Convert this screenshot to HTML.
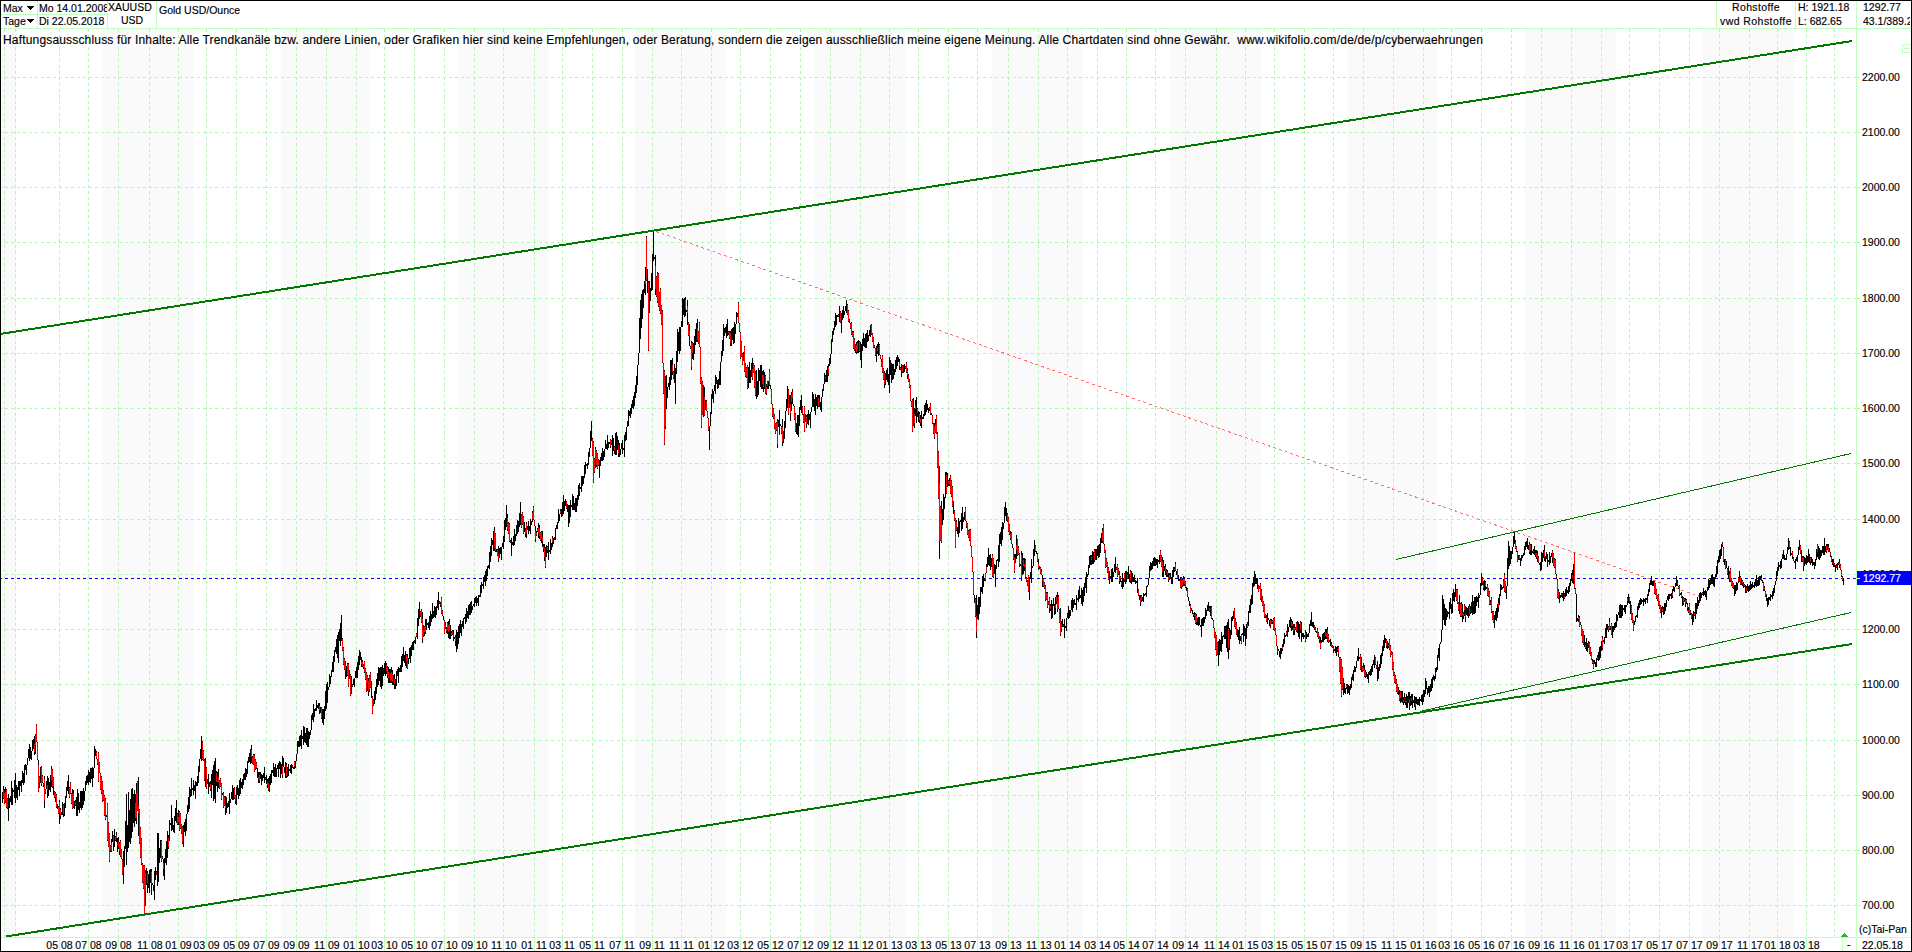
<!DOCTYPE html>
<html><head><meta charset="utf-8"><style>
html,body{margin:0;padding:0;background:#fff;}
body{width:1912px;height:952px;position:relative;overflow:hidden;font-family:"Liberation Sans",sans-serif;}
.t{position:absolute;white-space:nowrap;line-height:1;-webkit-text-stroke:0.15px currentColor;font-variant-ligatures:none;}
</style></head><body>
<svg width="1912" height="952" viewBox="0 0 1912 952" style="position:absolute;left:0;top:0" shape-rendering="crispEdges"><rect x="1" y="29" width="15" height="908" fill="#fafafa"/><rect x="103" y="29" width="90" height="908" fill="#fafafa"/><rect x="281" y="29" width="89" height="908" fill="#fafafa"/><rect x="458" y="29" width="90" height="908" fill="#fafafa"/><rect x="635" y="29" width="91" height="908" fill="#fafafa"/><rect x="814" y="29" width="91" height="908" fill="#fafafa"/><rect x="992" y="29" width="91" height="908" fill="#fafafa"/><rect x="1170" y="29" width="91" height="908" fill="#fafafa"/><rect x="1348" y="29" width="89" height="908" fill="#fafafa"/><rect x="1525" y="29" width="91" height="908" fill="#fafafa"/><rect x="1703" y="29" width="90" height="908" fill="#fafafa"/><path d="M-1 77.5H1860M-1 132.5H1860M-1 187.5H1860M-1 242.5H1860M-1 298.5H1860M-1 353.5H1860M-1 408.5H1860M-1 463.5H1860M-1 519.5H1860M-1 574.5H1860M-1 629.5H1860M-1 684.5H1860M-1 740.5H1860M-1 795.5H1860M-1 850.5H1860M-1 905.5H1860" stroke="#a6ffa6" stroke-width="1" stroke-dasharray="3 3" stroke-dashoffset="0" fill="none"/><path d="M4.5 29V937M15.5 29V937M59.5 29V937M88.5 29V937M118.5 29V937M149.5 29V937M178.5 29V937M206.5 29V937M236.5 29V937M266.5 29V937M296.5 29V937M326.5 29V937M356.5 29V937M384.5 29V937M414.5 29V937M444.5 29V937M474.5 29V937M503.5 29V937M534.5 29V937M562.5 29V937M592.5 29V937M622.5 29V937M652.5 29V937M681.5 29V937M711.5 29V937M740.5 29V937M770.5 29V937M800.5 29V937M830.5 29V937M860.5 29V937M889.5 29V937M918.5 29V937M948.5 29V937M977.5 29V937M1008.5 29V937M1038.5 29V937M1067.5 29V937M1097.5 29V937M1126.5 29V937M1155.5 29V937M1185.5 29V937M1216.5 29V937M1245.5 29V937M1274.5 29V937M1304.5 29V937M1333.5 29V937M1363.5 29V937M1393.5 29V937M1423.5 29V937M1451.5 29V937M1481.5 29V937M1511.5 29V937M1541.5 29V937M1571.5 29V937M1601.5 29V937M1629.5 29V937M1659.5 29V937M1689.5 29V937M1719.5 29V937M1749.5 29V937M1777.5 29V937M1806.5 29V937M1834.5 29V937" stroke="#a6ffa6" stroke-width="1" stroke-dasharray="3 3" fill="none"/><path d="M0 28.5H1911M0 937.5H1911M1856.5 0V951M0 14.5H107M37.5 0V28M107.5 0V28M156.5 0V28M1716.5 0V28M1795.5 0V28M59.5 938V951M88.5 938V951M118.5 938V951M149.5 938V951M178.5 938V951M206.5 938V951M236.5 938V951M266.5 938V951M296.5 938V951M326.5 938V951M356.5 938V951M384.5 938V951M414.5 938V951M444.5 938V951M474.5 938V951M503.5 938V951M534.5 938V951M562.5 938V951M592.5 938V951M622.5 938V951M652.5 938V951M681.5 938V951M711.5 938V951M740.5 938V951M770.5 938V951M800.5 938V951M830.5 938V951M860.5 938V951M889.5 938V951M918.5 938V951M948.5 938V951M977.5 938V951M1008.5 938V951M1038.5 938V951M1067.5 938V951M1097.5 938V951M1126.5 938V951M1155.5 938V951M1185.5 938V951M1216.5 938V951M1245.5 938V951M1274.5 938V951M1304.5 938V951M1333.5 938V951M1363.5 938V951M1393.5 938V951M1423.5 938V951M1451.5 938V951M1481.5 938V951M1511.5 938V951M1541.5 938V951M1571.5 938V951M1601.5 938V951M1629.5 938V951M1659.5 938V951M1689.5 938V951M1719.5 938V951M1749.5 938V951M1777.5 938V951M1806.5 938V951M1842.5 938V951" stroke="#c0ffc0" stroke-width="1" fill="none"/><path d="M1857 77.5H1860M1857 132.5H1860M1857 187.5H1860M1857 242.5H1860M1857 298.5H1860M1857 353.5H1860M1857 408.5H1860M1857 463.5H1860M1857 519.5H1860M1857 574.5H1860M1857 629.5H1860M1857 684.5H1860M1857 740.5H1860M1857 795.5H1860M1857 850.5H1860M1857 905.5H1860" stroke="#a6ffa6" stroke-width="1" fill="none"/><path d="M-1 578.5H1860" stroke="#0000ff" stroke-width="1" stroke-dasharray="3 3" fill="none"/><path d="M656 231.5L1700 596.5" stroke="#ff7070" stroke-width="1" stroke-dasharray="3 3" fill="none"/><path d="M2.5 792V803M3.5 786V799M4.5 789V804M5.5 787V803M6.5 789V808M7.5 798V809M8.5 794V821M9.5 798V808M10.5 796V802M11.5 781V805M12.5 788V805M13.5 790V792M14.5 780V798M15.5 773V803M16.5 785V798M17.5 787V800M18.5 781V790M19.5 781V796M20.5 781V786M21.5 780V792M22.5 771V783M23.5 773V785M24.5 765V783M25.5 764V770M26.5 765V775M27.5 758V765M28.5 749V758M29.5 744V761M30.5 747V759M31.5 751V760M32.5 740V751M33.5 739V749M34.5 736V755M35.5 734V754M36.5 724V742M37.5 742V760M38.5 760V792M39.5 776V788M40.5 767V783M41.5 766V786M42.5 775V783M43.5 783V787M44.5 776V808M45.5 789V794M46.5 781V789M47.5 776V798M48.5 778V796M49.5 782V790M50.5 775V792M51.5 766V787M52.5 769V788M53.5 777V795M54.5 791V798M55.5 792V802M56.5 794V808M57.5 804V809M58.5 806V814M59.5 800V824M60.5 808V819M61.5 812V815M62.5 802V815M63.5 804V817M64.5 803V816M65.5 796V808M66.5 787V798M67.5 781V791M68.5 775V794M69.5 787V798M70.5 782V794M71.5 793V804M72.5 789V809M73.5 790V808M74.5 801V809M75.5 800V806M76.5 797V816M77.5 789V816M78.5 793V810M79.5 802V813M80.5 791V808M81.5 791V810M82.5 791V808M83.5 788V805M84.5 791V801M85.5 781V791M86.5 776V785M87.5 775V783M88.5 770V785M89.5 772V782M90.5 768V783M91.5 768V779M92.5 767V787M93.5 768V778M94.5 746V768M95.5 749V756M96.5 751V759M97.5 759V765M98.5 752V782M99.5 762V773M100.5 773V790M101.5 776V794M102.5 781V802M103.5 790V801M104.5 795V816M105.5 798V820M106.5 815V817M107.5 803V841M108.5 822V847M109.5 833V862M110.5 845V852M111.5 839V852M112.5 831V842M113.5 835V851M114.5 829V847M115.5 836V841M116.5 832V842M117.5 838V852M118.5 837V849M119.5 842V855M120.5 840V857M121.5 849V859M122.5 859V875M123.5 851V884M124.5 846V867M125.5 821V849M126.5 794V865M127.5 825V852M128.5 792V848M129.5 810V842M130.5 799V844M131.5 789V838M132.5 788V832M133.5 794V823M134.5 790V827M135.5 794V821M136.5 783V824M137.5 781V811M138.5 777V836M139.5 809V844M140.5 827V858M141.5 838V865M142.5 863V883M143.5 865V889M144.5 865V915M145.5 870V906M146.5 868V885M147.5 871V893M148.5 874V888M149.5 870V893M150.5 869V883M151.5 869V895M152.5 883V885M153.5 885V891M154.5 871V900M155.5 867V880M156.5 871V875M157.5 833V886M158.5 833V882M159.5 848V863M160.5 840V858M161.5 840V862M162.5 856V859M163.5 859V876M164.5 858V880M165.5 849V863M166.5 841V865M167.5 831V858M168.5 835V849M169.5 820V841M170.5 823V825M171.5 805V831M172.5 818V830M173.5 825V832M174.5 816V833M175.5 808V821M176.5 800V823M177.5 813V825M178.5 810V825M179.5 811V831M180.5 813V829M181.5 824V834M182.5 826V844M183.5 825V847M184.5 822V832M185.5 819V836M186.5 814V831M187.5 805V814M188.5 797V812M189.5 787V809M190.5 789V797M191.5 778V796M192.5 788V790M193.5 780V795M194.5 785V791M195.5 781V799M196.5 782V786M197.5 776V786M198.5 766V783M199.5 759V772M200.5 749V759M201.5 736V761M202.5 741V760M203.5 750V761M204.5 759V781M205.5 758V787M206.5 767V789M207.5 779V784M208.5 774V794M209.5 782V787M210.5 781V791M211.5 774V798M212.5 770V785M213.5 765V801M214.5 761V799M215.5 758V803M216.5 771V786M217.5 772V792M218.5 769V788M219.5 780V789M220.5 778V787M221.5 783V800M222.5 793V795M223.5 792V808M224.5 796V806M225.5 796V815M226.5 797V813M227.5 803V808M228.5 801V807M229.5 793V814M230.5 799V803M231.5 792V799M232.5 785V800M233.5 788V800M234.5 787V799M235.5 795V804M236.5 787V805M237.5 785V795M238.5 788V799M239.5 780V796M240.5 778V794M241.5 782V788M242.5 779V789M243.5 774V785M244.5 773V780M245.5 768V780M246.5 769V777M247.5 761V774M248.5 757V763M249.5 753V762M250.5 749V764M251.5 745V763M252.5 756V764M253.5 754V765M254.5 754V772M255.5 759V770M256.5 762V769M257.5 768V778M258.5 772V783M259.5 772V783M260.5 772V779M261.5 774V785M262.5 775V781M263.5 773V778M264.5 767V783M265.5 777V780M266.5 775V784M267.5 779V788M268.5 778V791M269.5 776V792M270.5 774V785M271.5 770V783M272.5 770V773M273.5 763V776M274.5 767V777M275.5 764V777M276.5 768V777M277.5 765V769M278.5 763V777M279.5 761V769M280.5 762V778M281.5 764V774M282.5 756V778M283.5 758V767M284.5 767V773M285.5 762V778M286.5 763V778M287.5 767V777M288.5 764V776M289.5 769V771M290.5 765V773M291.5 764V774M292.5 765V768M293.5 767V769M294.5 761V769M295.5 761V768M296.5 754V761M297.5 741V754M298.5 741V747M299.5 736V747M300.5 735V746M301.5 730V749M302.5 736V739M303.5 726V745M304.5 727V742M305.5 733V743M306.5 728V745M307.5 728V747M308.5 731V747M309.5 732V739M310.5 730V735M311.5 715V730M312.5 713V720M313.5 704V722M314.5 709V717M315.5 708V711M316.5 700V711M317.5 705V708M318.5 703V709M319.5 703V714M320.5 707V713M321.5 707V719M322.5 709V723M323.5 709V725M324.5 706V719M325.5 691V711M326.5 684V709M327.5 682V703M328.5 687V690M329.5 674V687M330.5 676V684M331.5 670V677M332.5 662V672M333.5 656V672M334.5 650V662M335.5 647V652M336.5 639V654M337.5 635V658M338.5 632V663M339.5 629V641M340.5 623V646M341.5 615V641M342.5 638V651M343.5 647V665M344.5 658V670M345.5 661V679M346.5 666V677M347.5 663V676M348.5 663V687M349.5 670V679M350.5 674V696M351.5 676V694M352.5 684V687M353.5 679V685M354.5 678V687M355.5 671V678M356.5 667V678M357.5 662V678M358.5 656V670M359.5 650V665M360.5 652V660M361.5 657V667M362.5 660V667M363.5 664V669M364.5 661V673M365.5 668V680M366.5 672V692M367.5 675V691M368.5 678V696M369.5 675V692M370.5 672V688M371.5 681V698M372.5 696V714M373.5 699V706M374.5 691V704M375.5 687V700M376.5 679V694M377.5 673V687M378.5 667V685M379.5 668V681M380.5 667V687M381.5 667V689M382.5 665V686M383.5 668V676M384.5 663V674M385.5 661V676M386.5 663V674M387.5 666V678M388.5 667V683M389.5 669V683M390.5 669V683M391.5 667V683M392.5 670V685M393.5 675V685M394.5 674V689M395.5 679V689M396.5 671V686M397.5 669V676M398.5 667V683M399.5 668V672M400.5 665V672M401.5 656V672M402.5 654V667M403.5 647V661M404.5 655V663M405.5 651V666M406.5 654V668M407.5 654V669M408.5 658V664M409.5 648V659M410.5 647V663M411.5 645V656M412.5 642V650M413.5 641V650M414.5 640V643M415.5 637V644M416.5 633V637M417.5 618V639M418.5 609V626M419.5 602V619M420.5 611V617M421.5 609V623M422.5 612V643M423.5 625V637M424.5 626V636M425.5 619V634M426.5 619V630M427.5 623V625M428.5 622V628M429.5 616V630M430.5 611V626M431.5 614V622M432.5 603V619M433.5 611V618M434.5 606V617M435.5 607V618M436.5 606V615M437.5 600V608M438.5 592V610M439.5 601V604M440.5 602V607M441.5 597V614M442.5 610V616M443.5 616V620M444.5 620V634M445.5 622V629M446.5 627V633M447.5 622V634M448.5 621V638M449.5 619V639M450.5 625V639M451.5 631V636M452.5 630V635M453.5 630V641M454.5 637V639M455.5 635V646M456.5 630V652M457.5 632V649M458.5 626V644M459.5 624V638M460.5 620V633M461.5 624V636M462.5 621V627M463.5 618V629M464.5 617V619M465.5 614V624M466.5 608V622M467.5 611V618M468.5 605V619M469.5 604V615M470.5 602V615M471.5 601V613M472.5 606V610M473.5 604V606M474.5 598V607M475.5 597V603M476.5 596V606M477.5 598V603M478.5 595V606M479.5 595V597M480.5 585V597M481.5 582V593M482.5 584V586M483.5 577V589M484.5 575V582M485.5 571V586M486.5 569V581M487.5 566V576M488.5 565V568M489.5 552V569M490.5 546V562M491.5 538V556M492.5 540V545M493.5 531V551M494.5 527V551M495.5 533V552M496.5 549V552M497.5 549V556M498.5 546V562M499.5 548V558M500.5 547V554M501.5 547V560M502.5 543V547M503.5 536V549M504.5 520V542M505.5 518V530M506.5 505V527M507.5 514V531M508.5 522V534M509.5 523V542M510.5 540V543M511.5 538V556M512.5 542V545M513.5 536V546M514.5 529V545M515.5 534V541M516.5 525V536M517.5 520V534M518.5 521V532M519.5 513V527M520.5 502V525M521.5 514V528M522.5 512V525M523.5 516V534M524.5 522V532M525.5 528V537M526.5 522V538M527.5 526V530M528.5 521V534M529.5 526V531M530.5 519V534M531.5 521V525M532.5 511V522M533.5 506V520M534.5 520V526M535.5 526V542M536.5 531V536M537.5 528V532M538.5 523V538M539.5 525V539M540.5 532V541M541.5 531V543M542.5 531V547M543.5 544V552M544.5 544V561M545.5 547V568M546.5 545V557M547.5 546V553M548.5 542V560M549.5 550V552M550.5 539V554M551.5 543V550M552.5 536V547M553.5 538V544M554.5 537V540M555.5 528V540M556.5 525V529M557.5 522V529M558.5 509V523M559.5 514V521M560.5 509V514M561.5 509V517M562.5 502V516M563.5 495V514M564.5 501V511M565.5 499V506M566.5 501V509M567.5 504V512M568.5 505V527M569.5 505V523M570.5 500V517M571.5 505V507M572.5 494V510M573.5 496V510M574.5 503V510M575.5 498V512M576.5 498V512M577.5 495V506M578.5 485V500M579.5 483V496M580.5 487V489M581.5 476V492M582.5 476V486M583.5 476V484M584.5 465V478M585.5 462V474M586.5 464V466M587.5 463V469M588.5 452V465M589.5 448V457M590.5 431V448M591.5 421V441M592.5 438V456M593.5 441V483M594.5 458V473M595.5 447V468M596.5 450V467M597.5 453V469M598.5 459V466M599.5 460V478M600.5 457V466M601.5 453V461M602.5 448V461M603.5 451V460M604.5 449V457M605.5 440V449M606.5 444V449M607.5 435V450M608.5 442V448M609.5 442V444M610.5 439V448M611.5 440V445M612.5 435V456M613.5 438V451M614.5 446V454M615.5 433V455M616.5 432V455M617.5 436V450M618.5 440V457M619.5 443V457M620.5 449V455M621.5 443V449M622.5 440V454M623.5 448V450M624.5 435V457M625.5 432V441M626.5 427V440M627.5 421V427M628.5 410V426M629.5 411V416M630.5 408V418M631.5 404V414M632.5 400V408M633.5 396V409M634.5 392V406M635.5 385V398M636.5 376V393M637.5 365V385M638.5 353V365M639.5 318V353M640.5 300V339M641.5 294V328M642.5 290V319M643.5 289V308M644.5 281V293M645.5 267V295M646.5 236V281M647.5 269V293M648.5 281V351M649.5 281V313M650.5 288V301M651.5 273V291M652.5 254V290M653.5 232V261M654.5 257V259M655.5 255V295M656.5 276V297M657.5 272V303M658.5 273V307M659.5 292V311M660.5 288V314M661.5 305V325M662.5 310V363M663.5 363V394M664.5 370V445M665.5 376V429M666.5 375V409M667.5 387V398M668.5 383V387M669.5 377V390M670.5 360V385M671.5 360V380M672.5 358V375M673.5 371V379M674.5 364V383M675.5 368V404M676.5 351V374M677.5 329V362M678.5 332V351M679.5 327V354M680.5 327V351M681.5 321V327M682.5 298V327M683.5 299V315M684.5 298V317M685.5 297V316M686.5 310V312M687.5 300V325M688.5 322V336M689.5 324V346M690.5 346V349M691.5 341V370M692.5 342V359M693.5 343V360M694.5 336V354M695.5 329V345M696.5 323V342M697.5 319V342M698.5 331V344M699.5 322V347M700.5 347V384M701.5 377V428M702.5 381V415M703.5 385V417M704.5 387V416M705.5 400V410M706.5 400V411M707.5 411V418M708.5 418V431M709.5 426V450M710.5 412V426M711.5 394V414M712.5 389V399M713.5 391V403M714.5 385V391M715.5 375V394M716.5 377V384M717.5 380V389M718.5 379V388M719.5 371V385M720.5 362V385M721.5 351V362M722.5 340V356M723.5 324V351M724.5 328V336M725.5 327V333M726.5 324V338M727.5 319V336M728.5 331V335M729.5 331V339M730.5 331V346M731.5 329V346M732.5 328V340M733.5 327V344M734.5 322V343M735.5 324V334M736.5 312V324M737.5 313V317M738.5 302V323M739.5 323V332M740.5 332V359M741.5 341V357M742.5 353V365M743.5 352V361M744.5 346V372M745.5 363V377M746.5 367V378M747.5 365V389M748.5 367V388M749.5 362V383M750.5 370V383M751.5 363V377M752.5 358V380M753.5 363V373M754.5 365V388M755.5 371V396M756.5 370V399M757.5 381V397M758.5 368V395M759.5 370V381M760.5 365V387M761.5 365V389M762.5 371V389M763.5 370V392M764.5 372V389M765.5 375V394M766.5 384V395M767.5 381V389M768.5 381V389M769.5 369V386M770.5 385V389M771.5 389V404M772.5 404V417M773.5 408V419M774.5 414V429M775.5 423V434M776.5 422V431M777.5 419V448M778.5 420V427M779.5 410V435M780.5 424V426M781.5 426V434M782.5 419V446M783.5 431V443M784.5 421V439M785.5 411V428M786.5 399V411M787.5 386V408M788.5 389V415M789.5 395V408M790.5 395V421M791.5 392V411M792.5 389V404M793.5 404V406M794.5 406V420M795.5 413V432M796.5 423V434M797.5 415V435M798.5 415V437M799.5 407V426M800.5 400V410M801.5 395V413M802.5 406V415M803.5 414V423M804.5 406V432M805.5 414V422M806.5 415V428M807.5 414V424M808.5 410V425M809.5 414V420M810.5 412V428M811.5 407V412M812.5 392V407M813.5 394V407M814.5 399V411M815.5 394V415M816.5 397V406M817.5 395V409M818.5 395V407M819.5 395V407M820.5 402V410M821.5 397V412M822.5 389V397M823.5 384V391M824.5 373V384M825.5 375V382M826.5 370V382M827.5 366V382M828.5 364V376M829.5 358V366M830.5 354V364M831.5 339V354M832.5 331V342M833.5 328V335M834.5 321V330M835.5 313V327M836.5 315V325M837.5 315V317M838.5 314V317M839.5 306V322M840.5 311V323M841.5 313V333M842.5 310V320M843.5 306V318M844.5 311V315M845.5 306V311M846.5 300V313M847.5 304V315M848.5 310V322M849.5 319V323M850.5 323V329M851.5 322V335M852.5 331V337M853.5 331V349M854.5 338V351M855.5 344V353M856.5 342V354M857.5 341V353M858.5 340V353M859.5 341V352M860.5 342V360M861.5 344V368M862.5 339V351M863.5 333V346M864.5 338V347M865.5 334V348M866.5 333V348M867.5 330V342M868.5 335V341M869.5 330V336M870.5 325V337M871.5 324V335M872.5 333V342M873.5 337V348M874.5 345V348M875.5 348V356M876.5 346V362M877.5 344V354M878.5 342V356M879.5 344V355M880.5 355V359M881.5 359V367M882.5 355V373M883.5 368V380M884.5 371V388M885.5 373V385M886.5 370V380M887.5 368V382M888.5 374V385M889.5 357V393M890.5 360V375M891.5 363V383M892.5 364V380M893.5 364V379M894.5 369V375M895.5 360V372M896.5 357V369M897.5 355V366M898.5 357V362M899.5 359V370M900.5 367V370M901.5 364V377M902.5 365V373M903.5 365V373M904.5 364V372M905.5 366V369M906.5 362V373M907.5 368V379M908.5 374V382M909.5 379V388M910.5 385V401M911.5 401V407M912.5 399V432M913.5 398V426M914.5 408V428M915.5 400V416M916.5 397V423M917.5 408V417M918.5 411V422M919.5 412V423M920.5 415V426M921.5 411V428M922.5 417V419M923.5 414V419M924.5 405V416M925.5 403V415M926.5 400V412M927.5 404V410M928.5 408V413M929.5 407V411M930.5 403V415M931.5 413V415M932.5 415V424M933.5 423V434M934.5 423V439M935.5 419V433M936.5 415V434M937.5 432V468M938.5 451V499M939.5 466V559M940.5 506V541M941.5 501V543M942.5 509V525M943.5 494V520M944.5 497V509M945.5 472V498M946.5 472V494M947.5 473V487M948.5 480V486M949.5 478V486M950.5 475V494M951.5 480V497M952.5 486V507M953.5 501V514M954.5 510V521M955.5 518V548M956.5 520V531M957.5 527V534M958.5 518V537M959.5 521V533M960.5 520V522M961.5 513V531M962.5 507V529M963.5 517V522M964.5 512V520M965.5 507V521M966.5 521V528M967.5 523V535M968.5 530V538M969.5 529V541M970.5 529V546M971.5 546V557M972.5 557V572M973.5 572V595M974.5 595V603M975.5 598V617M976.5 595V638M977.5 605V619M978.5 597V620M979.5 597V614M980.5 587V607M981.5 587V592M982.5 576V594M983.5 574V587M984.5 578V581M985.5 573V581M986.5 564V573M987.5 557V567M988.5 548V565M989.5 555V566M990.5 554V570M991.5 558V567M992.5 554V577M993.5 558V578M994.5 564V574M995.5 565V587M996.5 560V569M997.5 559V561M998.5 545V567M999.5 534V562M1000.5 532V544M1001.5 527V546M1002.5 522V540M1003.5 523V529M1004.5 507V523M1005.5 502V516M1006.5 508V521M1007.5 513V522M1008.5 517V532M1009.5 524V535M1010.5 531V540M1011.5 532V544M1012.5 544V548M1013.5 548V560M1014.5 554V573M1015.5 554V563M1016.5 535V559M1017.5 539V556M1018.5 546V555M1019.5 553V567M1020.5 564V566M1021.5 551V581M1022.5 553V575M1023.5 558V574M1024.5 558V571M1025.5 559V578M1026.5 577V582M1027.5 580V586M1028.5 575V592M1029.5 577V600M1030.5 572V579M1031.5 559V583M1032.5 566V568M1033.5 549V566M1034.5 540V556M1035.5 545V552M1036.5 551V554M1037.5 553V562M1038.5 559V570M1039.5 566V569M1040.5 567V574M1041.5 569V575M1042.5 575V587M1043.5 578V587M1044.5 582V589M1045.5 585V601M1046.5 592V600M1047.5 592V608M1048.5 601V605M1049.5 597V613M1050.5 604V611M1051.5 600V619M1052.5 604V618M1053.5 598V606M1054.5 604V615M1055.5 597V614M1056.5 595V604M1057.5 592V612M1058.5 595V609M1059.5 609V623M1060.5 608V636M1061.5 621V632M1062.5 619V627M1063.5 624V627M1064.5 619V638M1065.5 626V628M1066.5 618V631M1067.5 613V618M1068.5 606V619M1069.5 610V618M1070.5 610V616M1071.5 600V610M1072.5 598V612M1073.5 600V608M1074.5 599V605M1075.5 603V605M1076.5 595V610M1077.5 598V600M1078.5 590V602M1079.5 586V599M1080.5 595V598M1081.5 588V604M1082.5 590V606M1083.5 587V602M1084.5 583V596M1085.5 577V588M1086.5 572V593M1087.5 574V577M1088.5 565V575M1089.5 556V568M1090.5 555V565M1091.5 555V565M1092.5 551V564M1093.5 552V564M1094.5 549V562M1095.5 549V560M1096.5 549V560M1097.5 546V556M1098.5 545V558M1099.5 544V557M1100.5 538V553M1101.5 533V543M1102.5 528V543M1103.5 524V544M1104.5 544V553M1105.5 550V568M1106.5 558V567M1107.5 562V573M1108.5 567V580M1109.5 571V584M1110.5 576V578M1111.5 569V582M1112.5 568V582M1113.5 572V577M1114.5 564V572M1115.5 557V573M1116.5 567V570M1117.5 564V577M1118.5 568V575M1119.5 571V584M1120.5 576V582M1121.5 581V587M1122.5 573V589M1123.5 578V587M1124.5 573V582M1125.5 571V584M1126.5 571V582M1127.5 572V579M1128.5 566V579M1129.5 574V582M1130.5 570V583M1131.5 571V584M1132.5 573V582M1133.5 577V582M1134.5 575V582M1135.5 580V584M1136.5 581V583M1137.5 578V593M1138.5 589V596M1139.5 595V600M1140.5 595V606M1141.5 595V602M1142.5 597V601M1143.5 593V602M1144.5 594V596M1145.5 593V595M1146.5 586V597M1147.5 585V587M1148.5 578V585M1149.5 566V578M1150.5 562V571M1151.5 563V570M1152.5 561V569M1153.5 558V566M1154.5 557V566M1155.5 558V566M1156.5 559V565M1157.5 559V568M1158.5 560V562M1159.5 555V564M1160.5 550V562M1161.5 555V567M1162.5 557V577M1163.5 560V577M1164.5 566V571M1165.5 564V575M1166.5 569V577M1167.5 570V577M1168.5 573V582M1169.5 573V580M1170.5 573V579M1171.5 577V584M1172.5 570V584M1173.5 567V577M1174.5 567V572M1175.5 562V571M1176.5 571V575M1177.5 569V579M1178.5 575V581M1179.5 579V581M1180.5 577V588M1181.5 577V589M1182.5 579V587M1183.5 576V586M1184.5 577V586M1185.5 581V588M1186.5 587V591M1187.5 588V597M1188.5 597V601M1189.5 601V606M1190.5 604V613M1191.5 608V611M1192.5 610V614M1193.5 613V617M1194.5 612V620M1195.5 613V624M1196.5 614V625M1197.5 618V625M1198.5 617V626M1199.5 617V625M1200.5 625V627M1201.5 619V637M1202.5 618V626M1203.5 617V626M1204.5 617V623M1205.5 608V619M1206.5 610V616M1207.5 605V611M1208.5 602V611M1209.5 606V612M1210.5 606V616M1211.5 606V619M1212.5 618V620M1213.5 620V628M1214.5 628V638M1215.5 632V650M1216.5 635V656M1217.5 642V655M1218.5 641V666M1219.5 639V655M1220.5 640V651M1221.5 632V652M1222.5 636V644M1223.5 635V637M1224.5 626V639M1225.5 626V639M1226.5 625V648M1227.5 622V652M1228.5 619V659M1229.5 628V650M1230.5 630V639M1231.5 617V635M1232.5 616V621M1233.5 611V619M1234.5 608V627M1235.5 618V629M1236.5 622V635M1237.5 629V637M1238.5 630V640M1239.5 627V644M1240.5 636V641M1241.5 634V644M1242.5 633V635M1243.5 624V642M1244.5 626V636M1245.5 628V646M1246.5 624V639M1247.5 622V628M1248.5 611V626M1249.5 605V613M1250.5 599V613M1251.5 595V605M1252.5 583V604M1253.5 577V587M1254.5 571V586M1255.5 574V584M1256.5 578V584M1257.5 578V589M1258.5 585V592M1259.5 586V589M1260.5 583V600M1261.5 589V602M1262.5 596V606M1263.5 601V612M1264.5 604V618M1265.5 614V618M1266.5 615V622M1267.5 613V624M1268.5 618V620M1269.5 620V626M1270.5 619V628M1271.5 619V624M1272.5 620V624M1273.5 618V630M1274.5 617V631M1275.5 628V635M1276.5 635V646M1277.5 646V655M1278.5 649V651M1279.5 651V657M1280.5 648V659M1281.5 648V654M1282.5 644V651M1283.5 639V647M1284.5 633V644M1285.5 635V637M1286.5 631V636M1287.5 624V637M1288.5 627V632M1289.5 620V627M1290.5 617V628M1291.5 619V631M1292.5 621V630M1293.5 624V635M1294.5 624V635M1295.5 627V630M1296.5 622V632M1297.5 621V633M1298.5 622V637M1299.5 624V639M1300.5 621V633M1301.5 622V642M1302.5 633V637M1303.5 633V639M1304.5 635V637M1305.5 630V642M1306.5 632V639M1307.5 634V637M1308.5 633V637M1309.5 624V633M1310.5 620V626M1311.5 612V626M1312.5 622V627M1313.5 622V628M1314.5 625V630M1315.5 627V632M1316.5 631V633M1317.5 628V637M1318.5 632V639M1319.5 636V643M1320.5 637V649M1321.5 640V643M1322.5 634V642M1323.5 633V642M1324.5 632V640M1325.5 629V639M1326.5 629V639M1327.5 627V642M1328.5 634V643M1329.5 640V642M1330.5 639V646M1331.5 642V647M1332.5 645V648M1333.5 646V653M1334.5 649V651M1335.5 646V653M1336.5 647V656M1337.5 646V652M1338.5 646V657M1339.5 657V672M1340.5 657V684M1341.5 659V697M1342.5 667V690M1343.5 678V695M1344.5 683V693M1345.5 688V694M1346.5 684V689M1347.5 684V694M1348.5 685V693M1349.5 686V695M1350.5 684V690M1351.5 677V688M1352.5 674V680M1353.5 670V681M1354.5 666V672M1355.5 667V672M1356.5 661V668M1357.5 656V661M1358.5 648V661M1359.5 657V659M1360.5 654V670M1361.5 657V672M1362.5 666V672M1363.5 663V671M1364.5 665V677M1365.5 670V678M1366.5 672V677M1367.5 674V679M1368.5 672V683M1369.5 671V675M1370.5 669V676M1371.5 666V675M1372.5 664V672M1373.5 660V665M1374.5 655V668M1375.5 657V665M1376.5 665V669M1377.5 661V681M1378.5 667V679M1379.5 664V671M1380.5 655V668M1381.5 653V664M1382.5 646V656M1383.5 640V651M1384.5 635V648M1385.5 638V643M1386.5 639V648M1387.5 641V649M1388.5 643V648M1389.5 639V650M1390.5 645V657M1391.5 651V655M1392.5 652V670M1393.5 662V676M1394.5 672V683M1395.5 675V684M1396.5 679V692M1397.5 684V694M1398.5 687V695M1399.5 690V701M1400.5 691V703M1401.5 691V702M1402.5 691V703M1403.5 697V705M1404.5 693V703M1405.5 697V705M1406.5 694V708M1407.5 696V708M1408.5 692V703M1409.5 692V710M1410.5 696V706M1411.5 694V705M1412.5 694V708M1413.5 700V703M1414.5 696V707M1415.5 697V710M1416.5 697V704M1417.5 699V705M1418.5 699V705M1419.5 697V706M1420.5 699V701M1421.5 695V702M1422.5 694V705M1423.5 690V702M1424.5 690V697M1425.5 678V694M1426.5 681V689M1427.5 688V695M1428.5 686V693M1429.5 686V697M1430.5 684V692M1431.5 679V691M1432.5 677V688M1433.5 675V680M1434.5 676V681M1435.5 668V679M1436.5 667V672M1437.5 655V670M1438.5 648V658M1439.5 644V661M1440.5 642V644M1441.5 630V642M1442.5 595V630M1443.5 599V620M1444.5 604V625M1445.5 608V626M1446.5 609V620M1447.5 611V617M1448.5 612V614M1449.5 602V619M1450.5 598V609M1451.5 604V614M1452.5 593V613M1453.5 589V601M1454.5 592V602M1455.5 584V597M1456.5 589V601M1457.5 589V604M1458.5 602V611M1459.5 595V614M1460.5 603V617M1461.5 602V617M1462.5 604V622M1463.5 612V619M1464.5 604V616M1465.5 606V622M1466.5 607V615M1467.5 608V616M1468.5 606V618M1469.5 604V616M1470.5 606V614M1471.5 602V613M1472.5 595V615M1473.5 601V614M1474.5 597V614M1475.5 597V613M1476.5 596V606M1477.5 597V602M1478.5 593V608M1479.5 595V598M1480.5 583V595M1481.5 573V586M1482.5 577V585M1483.5 581V590M1484.5 580V591M1485.5 581V590M1486.5 587V589M1487.5 584V596M1488.5 588V597M1489.5 591V605M1490.5 600V605M1491.5 597V613M1492.5 611V620M1493.5 611V623M1494.5 615V628M1495.5 611V620M1496.5 608V621M1497.5 604V618M1498.5 598V612M1499.5 594V605M1500.5 584V596M1501.5 585V590M1502.5 587V589M1503.5 579V588M1504.5 573V592M1505.5 581V593M1506.5 586V599M1507.5 558V586M1508.5 541V569M1509.5 546V566M1510.5 551V564M1511.5 551V559M1512.5 547V554M1513.5 536V547M1514.5 532V544M1515.5 540V549M1516.5 546V552M1517.5 551V562M1518.5 555V560M1519.5 555V560M1520.5 558V566M1521.5 555V561M1522.5 555V558M1523.5 553V556M1524.5 546V555M1525.5 542V550M1526.5 541V547M1527.5 538V549M1528.5 545V550M1529.5 542V554M1530.5 544V555M1531.5 544V555M1532.5 551V553M1533.5 549V554M1534.5 546V555M1535.5 550V557M1536.5 550V559M1537.5 551V562M1538.5 556V563M1539.5 563V565M1540.5 562V571M1541.5 552V570M1542.5 553V562M1543.5 550V558M1544.5 545V561M1545.5 556V562M1546.5 552V559M1547.5 554V567M1548.5 560V562M1549.5 552V565M1550.5 556V563M1551.5 553V557M1552.5 550V563M1553.5 553V566M1554.5 558V568M1555.5 559V574M1556.5 574V579M1557.5 579V598M1558.5 589V599M1559.5 592V603M1560.5 595V598M1561.5 593V597M1562.5 593V598M1563.5 591V601M1564.5 593V599M1565.5 589V597M1566.5 587V596M1567.5 590V593M1568.5 586V594M1569.5 583V592M1570.5 579V586M1571.5 573V581M1572.5 570V583M1573.5 564V584M1574.5 553V589M1575.5 588V594M1576.5 594V622M1577.5 618V621M1578.5 615V622M1579.5 616V627M1580.5 622V625M1581.5 625V636M1582.5 629V643M1583.5 631V645M1584.5 635V647M1585.5 642V649M1586.5 638V651M1587.5 643V652M1588.5 641V648M1589.5 642V654M1590.5 647V656M1591.5 652V660M1592.5 659V664M1593.5 660V669M1594.5 660V664M1595.5 662V667M1596.5 658V667M1597.5 655V660M1598.5 652V661M1599.5 647V660M1600.5 646V658M1601.5 641V651M1602.5 636V650M1603.5 640V642M1604.5 637V644M1605.5 628V638M1606.5 624V638M1607.5 624V630M1608.5 626V632M1609.5 618V630M1610.5 626V630M1611.5 623V635M1612.5 626V638M1613.5 626V632M1614.5 623V630M1615.5 622V628M1616.5 614V627M1617.5 615V621M1618.5 612V615M1619.5 605V618M1620.5 604V618M1621.5 605V618M1622.5 605V616M1623.5 608V610M1624.5 605V612M1625.5 605V614M1626.5 605V607M1627.5 597V605M1628.5 594V603M1629.5 597V604M1630.5 601V614M1631.5 605V620M1632.5 613V623M1633.5 620V631M1634.5 621V625M1635.5 616V622M1636.5 615V617M1637.5 606V618M1638.5 603V610M1639.5 600V608M1640.5 598V605M1641.5 599V604M1642.5 600V602M1643.5 598V606M1644.5 599V602M1645.5 598V604M1646.5 598V600M1647.5 594V603M1648.5 589V596M1649.5 583V592M1650.5 580V585M1651.5 576V585M1652.5 581V586M1653.5 581V586M1654.5 581V594M1655.5 583V595M1656.5 589V599M1657.5 595V601M1658.5 594V606M1659.5 601V609M1660.5 605V613M1661.5 607V618M1662.5 606V612M1663.5 607V615M1664.5 603V614M1665.5 603V611M1666.5 600V607M1667.5 596V600M1668.5 594V601M1669.5 594V599M1670.5 594V596M1671.5 593V599M1672.5 589V598M1673.5 586V591M1674.5 587V592M1675.5 583V587M1676.5 576V586M1677.5 580V586M1678.5 586V589M1679.5 585V596M1680.5 593V595M1681.5 592V598M1682.5 596V606M1683.5 597V605M1684.5 598V602M1685.5 598V607M1686.5 599V604M1687.5 603V611M1688.5 607V613M1689.5 603V615M1690.5 610V615M1691.5 613V619M1692.5 614V625M1693.5 611V622M1694.5 612V616M1695.5 603V619M1696.5 603V614M1697.5 597V609M1698.5 600V606M1699.5 593V603M1700.5 592V601M1701.5 593V598M1702.5 592V595M1703.5 588V596M1704.5 591V595M1705.5 590V597M1706.5 591V600M1707.5 587V591M1708.5 579V590M1709.5 580V588M1710.5 578V585M1711.5 575V584M1712.5 574V584M1713.5 577V586M1714.5 577V587M1715.5 574V579M1716.5 566V577M1717.5 560V574M1718.5 556V563M1719.5 550V562M1720.5 549V559M1721.5 544V556M1722.5 542V547M1723.5 547V562M1724.5 559V565M1725.5 559V569M1726.5 561V568M1727.5 568V575M1728.5 566V579M1729.5 571V582M1730.5 568V582M1731.5 578V586M1732.5 581V588M1733.5 583V589M1734.5 585V596M1735.5 585V594M1736.5 582V591M1737.5 583V590M1738.5 577V583M1739.5 571V582M1740.5 576V585M1741.5 579V585M1742.5 580V586M1743.5 582V588M1744.5 584V587M1745.5 585V593M1746.5 586V593M1747.5 584V591M1748.5 586V592M1749.5 585V591M1750.5 581V590M1751.5 584V589M1752.5 582V588M1753.5 585V587M1754.5 582V588M1755.5 579V586M1756.5 575V587M1757.5 580V586M1758.5 577V586M1759.5 576V585M1760.5 576V580M1761.5 575V581M1762.5 580V583M1763.5 582V591M1764.5 586V591M1765.5 591V597M1766.5 594V601M1767.5 598V607M1768.5 597V605M1769.5 597V600M1770.5 594V601M1771.5 595V597M1772.5 591V599M1773.5 588V596M1774.5 585V593M1775.5 581V585M1776.5 571V581M1777.5 567V576M1778.5 562V571M1779.5 565V567M1780.5 561V569M1781.5 559V568M1782.5 554V559M1783.5 550V559M1784.5 555V560M1785.5 558V560M1786.5 554V560M1787.5 547V554M1788.5 538V550M1789.5 541V549M1790.5 547V556M1791.5 553V555M1792.5 551V559M1793.5 557V561M1794.5 561V563M1795.5 559V569M1796.5 557V561M1797.5 555V562M1798.5 547V555M1799.5 540V550M1800.5 545V554M1801.5 550V562M1802.5 556V562M1803.5 556V571M1804.5 557V566M1805.5 558V564M1806.5 555V565M1807.5 556V563M1808.5 549V562M1809.5 554V563M1810.5 557V565M1811.5 557V563M1812.5 559V566M1813.5 562V565M1814.5 562V569M1815.5 559V566M1816.5 549V560M1817.5 544V557M1818.5 546V559M1819.5 548V560M1820.5 550V558M1821.5 550V556M1822.5 546V553M1823.5 546V555M1824.5 538V555M1825.5 546V552M1826.5 544V553M1827.5 544V550M1828.5 544V552M1829.5 548V552M1830.5 552V557M1831.5 556V562M1832.5 559V565M1833.5 559V567M1834.5 563V567M1835.5 565V572M1836.5 564V568M1837.5 563V570M1838.5 562V565M1839.5 559V568M1840.5 564V570M1841.5 570V577M1842.5 576V581M1843.5 578V585" stroke="#000" stroke-width="1" fill="none"/><path d="M3.5 790V798M4.5 793V803M5.5 792V800M6.5 790V807M7.5 799V808M34.5 744V752M35.5 736V745M36.5 725V741M37.5 743V759M38.5 765V791M39.5 777V783M41.5 767V784M42.5 776V782M43.5 784V785M44.5 779V801M45.5 790V792M47.5 785V790M51.5 769V780M52.5 770V787M53.5 778V786M54.5 792V797M55.5 793V797M56.5 795V807M58.5 807V813M59.5 802V813M60.5 810V816M63.5 805V814M69.5 788V797M70.5 783V793M71.5 794V803M72.5 794V808M73.5 793V807M75.5 802V805M96.5 752V758M97.5 760V764M98.5 753V781M99.5 763V772M100.5 774V789M101.5 777V793M102.5 782V801M103.5 791V800M104.5 796V815M105.5 799V819M107.5 804V840M108.5 823V846M109.5 834V861M110.5 846V850M111.5 843V851M113.5 836V843M115.5 837V840M116.5 835V838M117.5 844V845M118.5 842V847M119.5 844V851M120.5 841V856M121.5 850V858M122.5 860V874M135.5 803V818M136.5 793V818M137.5 782V810M138.5 806V813M139.5 810V843M140.5 828V857M141.5 839V864M142.5 864V882M143.5 866V888M144.5 866V914M145.5 873V891M147.5 873V883M151.5 872V884M156.5 872V874M161.5 841V861M162.5 857V858M163.5 863V869M168.5 838V847M177.5 814V824M178.5 817V822M179.5 812V830M180.5 814V828M181.5 825V833M182.5 827V843M202.5 742V759M203.5 751V760M204.5 760V780M206.5 768V788M210.5 784V789M216.5 773V782M217.5 781V782M218.5 777V782M219.5 781V788M220.5 779V786M221.5 784V799M223.5 793V807M224.5 797V805M225.5 805V808M234.5 788V798M235.5 796V801M251.5 750V757M252.5 757V763M253.5 755V764M254.5 755V771M255.5 760V769M256.5 763V768M258.5 777V779M259.5 775V780M265.5 778V779M267.5 782V785M268.5 783V790M282.5 766V775M286.5 765V776M292.5 766V767M294.5 762V766M319.5 706V710M321.5 708V718M342.5 639V650M343.5 648V664M344.5 659V669M345.5 665V671M347.5 664V675M348.5 664V686M350.5 675V695M352.5 685V686M361.5 662V664M362.5 662V666M363.5 666V667M364.5 662V672M365.5 669V679M366.5 673V691M367.5 676V683M368.5 681V691M369.5 676V689M370.5 673V687M372.5 697V713M373.5 701V703M386.5 665V671M387.5 667V675M388.5 672V678M390.5 673V681M391.5 672V680M392.5 674V682M394.5 679V684M406.5 655V661M407.5 657V668M416.5 634V636M420.5 612V616M421.5 610V622M422.5 619V639M423.5 630V635M424.5 627V632M425.5 626V632M439.5 602V603M440.5 604V605M441.5 598V613M442.5 611V615M444.5 621V633M445.5 625V628M446.5 629V631M447.5 623V630M448.5 625V632M449.5 624V630M451.5 633V635M452.5 631V634M453.5 634V637M455.5 637V641M494.5 531V548M495.5 534V551M497.5 550V555M498.5 554V559M507.5 518V529M508.5 523V533M509.5 524V541M510.5 541V542M521.5 515V527M522.5 513V524M523.5 517V533M525.5 530V534M526.5 524V533M532.5 513V519M533.5 507V519M534.5 521V525M535.5 531V539M536.5 533V535M537.5 529V531M538.5 527V533M539.5 528V536M540.5 533V540M541.5 532V538M542.5 537V541M543.5 546V549M544.5 548V557M545.5 557V567M547.5 547V550M552.5 538V542M560.5 511V513M566.5 502V508M579.5 489V491M592.5 439V455M593.5 442V482M594.5 459V472M595.5 449V460M596.5 451V465M597.5 454V468M598.5 460V465M610.5 440V446M611.5 441V443M614.5 447V450M618.5 445V453M645.5 280V284M646.5 237V280M648.5 282V350M655.5 266V289M656.5 277V296M657.5 273V302M658.5 274V306M659.5 293V310M660.5 289V313M661.5 306V324M662.5 311V362M663.5 364V393M664.5 371V444M665.5 388V426M672.5 365V372M673.5 372V378M685.5 300V309M687.5 306V313M688.5 323V335M689.5 331V336M690.5 347V348M691.5 343V367M692.5 343V353M697.5 328V340M698.5 332V343M699.5 323V346M700.5 348V383M701.5 378V427M702.5 382V414M704.5 397V415M706.5 401V410M707.5 412V417M708.5 419V430M728.5 332V333M729.5 332V338M730.5 333V343M737.5 315V316M738.5 303V322M739.5 324V331M740.5 333V358M741.5 342V356M742.5 354V364M744.5 347V371M745.5 364V376M746.5 368V377M747.5 366V388M752.5 369V378M753.5 364V372M754.5 366V387M755.5 372V395M762.5 375V384M763.5 375V387M765.5 376V393M766.5 387V393M767.5 382V386M769.5 370V385M771.5 390V403M772.5 405V416M773.5 409V418M774.5 415V428M775.5 424V433M776.5 423V430M777.5 421V444M781.5 427V433M782.5 427V442M788.5 390V414M790.5 404V413M791.5 395V402M792.5 392V398M794.5 407V419M795.5 414V431M802.5 407V414M803.5 415V422M804.5 407V431M806.5 417V424M818.5 398V406M825.5 377V379M828.5 367V373M838.5 315V316M840.5 312V322M847.5 305V314M848.5 311V321M849.5 320V321M850.5 324V328M851.5 323V334M852.5 332V336M853.5 332V348M854.5 339V350M855.5 348V349M856.5 345V352M857.5 343V349M859.5 342V351M871.5 325V334M872.5 334V341M873.5 338V347M874.5 346V347M875.5 349V355M877.5 348V351M879.5 345V354M880.5 356V358M881.5 362V366M882.5 356V372M883.5 369V379M884.5 373V384M892.5 371V372M899.5 362V366M900.5 368V369M902.5 366V372M905.5 367V368M906.5 363V372M907.5 371V375M908.5 375V381M909.5 380V387M910.5 386V400M911.5 402V406M912.5 400V431M914.5 414V423M915.5 406V409M917.5 409V413M919.5 414V420M920.5 419V423M929.5 408V409M930.5 404V414M932.5 416V423M933.5 424V433M934.5 426V437M935.5 424V432M936.5 416V433M937.5 433V467M938.5 452V498M939.5 483V541M940.5 507V540M941.5 513V542M946.5 475V493M948.5 481V484M949.5 481V484M950.5 476V493M951.5 481V496M952.5 487V506M954.5 511V520M955.5 519V547M956.5 522V530M965.5 508V520M966.5 522V526M967.5 524V534M968.5 531V537M969.5 530V540M970.5 530V545M971.5 547V556M972.5 558V571M973.5 573V594M975.5 599V616M976.5 616V632M985.5 574V580M986.5 567V572M992.5 555V576M993.5 559V577M1007.5 514V521M1008.5 518V531M1009.5 525V534M1010.5 534V538M1011.5 533V543M1012.5 545V546M1013.5 549V559M1014.5 557V571M1016.5 545V550M1017.5 540V555M1018.5 547V554M1019.5 554V566M1021.5 555V577M1023.5 560V566M1024.5 564V567M1025.5 560V577M1026.5 578V581M1027.5 581V585M1028.5 576V591M1035.5 546V551M1037.5 554V561M1038.5 564V568M1040.5 568V573M1041.5 572V574M1042.5 579V581M1043.5 579V586M1044.5 583V588M1045.5 586V600M1046.5 593V599M1047.5 593V607M1048.5 602V604M1049.5 598V608M1050.5 606V609M1055.5 605V608M1056.5 597V601M1057.5 601V609M1058.5 596V608M1059.5 610V622M1060.5 619V634M1061.5 624V629M1063.5 625V626M1091.5 557V560M1094.5 550V560M1102.5 531V541M1103.5 525V543M1104.5 545V552M1105.5 551V567M1106.5 559V566M1107.5 563V572M1108.5 568V579M1116.5 568V569M1117.5 565V576M1118.5 569V574M1119.5 574V581M1120.5 577V579M1121.5 582V585M1124.5 574V580M1127.5 575V578M1130.5 571V581M1138.5 590V595M1140.5 598V602M1141.5 596V600M1160.5 551V561M1161.5 556V566M1162.5 561V572M1163.5 568V569M1165.5 567V571M1166.5 571V573M1167.5 572V575M1168.5 577V580M1169.5 575V578M1174.5 569V570M1175.5 564V570M1177.5 570V578M1180.5 580V587M1181.5 578V587M1182.5 580V585M1183.5 579V583M1184.5 579V584M1185.5 582V587M1187.5 589V596M1190.5 605V612M1193.5 614V615M1194.5 615V616M1195.5 614V623M1196.5 616V622M1209.5 608V611M1211.5 607V618M1213.5 621V627M1214.5 629V637M1215.5 633V649M1216.5 636V655M1217.5 643V654M1228.5 629V648M1234.5 609V626M1235.5 619V628M1236.5 623V634M1241.5 635V643M1247.5 624V627M1258.5 586V591M1259.5 587V588M1260.5 584V599M1261.5 591V598M1262.5 597V605M1263.5 602V611M1264.5 605V617M1265.5 615V616M1266.5 618V621M1270.5 620V625M1271.5 621V623M1272.5 621V622M1273.5 619V629M1274.5 618V630M1275.5 629V634M1276.5 636V645M1277.5 650V652M1282.5 647V649M1286.5 632V634M1291.5 622V626M1292.5 624V626M1293.5 628V631M1294.5 628V630M1295.5 628V629M1296.5 623V631M1300.5 622V630M1305.5 633V641M1314.5 626V628M1315.5 628V631M1317.5 629V636M1318.5 633V638M1319.5 638V640M1320.5 642V648M1325.5 632V636M1326.5 634V637M1327.5 630V640M1328.5 635V642M1331.5 644V646M1332.5 646V647M1333.5 648V650M1337.5 649V650M1338.5 647V654M1339.5 658V671M1340.5 658V683M1341.5 660V696M1342.5 668V689M1346.5 685V687M1360.5 655V669M1362.5 667V671M1363.5 667V670M1364.5 670V676M1365.5 672V676M1375.5 658V664M1376.5 666V668M1386.5 640V646M1387.5 644V645M1388.5 645V646M1389.5 640V649M1390.5 646V656M1391.5 652V654M1392.5 653V669M1393.5 663V675M1394.5 673V682M1395.5 676V683M1396.5 680V691M1397.5 685V693M1398.5 690V691M1399.5 694V700M1400.5 692V698M1403.5 700V702M1404.5 698V699M1405.5 701V702M1406.5 701V702M1409.5 699V703M1411.5 698V701M1415.5 703V706M1456.5 590V600M1457.5 590V603M1458.5 603V610M1460.5 604V616M1461.5 604V616M1462.5 613V615M1463.5 614V616M1464.5 606V610M1465.5 613V617M1469.5 606V614M1479.5 596V597M1482.5 578V583M1483.5 585V588M1485.5 582V586M1487.5 585V595M1488.5 589V596M1489.5 592V604M1490.5 602V604M1491.5 598V612M1492.5 612V619M1493.5 612V622M1498.5 603V607M1503.5 581V586M1504.5 575V591M1505.5 582V592M1515.5 542V548M1516.5 547V551M1517.5 552V561M1519.5 556V559M1529.5 544V552M1530.5 545V550M1533.5 551V552M1535.5 553V554M1536.5 553V557M1537.5 555V558M1538.5 557V562M1544.5 551V557M1552.5 551V558M1553.5 554V565M1554.5 559V567M1555.5 560V573M1556.5 576V577M1557.5 580V597M1558.5 591V598M1561.5 594V595M1564.5 596V598M1572.5 575V578M1574.5 554V588M1575.5 589V593M1578.5 617V619M1579.5 617V626M1580.5 623V624M1581.5 626V635M1582.5 630V642M1583.5 632V644M1585.5 645V648M1588.5 643V645M1589.5 643V653M1590.5 648V655M1591.5 653V659M1592.5 661V663M1593.5 662V668M1597.5 657V659M1602.5 638V648M1608.5 627V630M1609.5 622V629M1610.5 627V628M1611.5 624V634M1627.5 598V601M1629.5 598V601M1631.5 606V619M1632.5 614V622M1633.5 621V630M1654.5 582V593M1655.5 584V594M1656.5 590V598M1657.5 596V600M1658.5 595V605M1659.5 602V608M1660.5 606V612M1662.5 609V611M1672.5 593V596M1677.5 583V584M1678.5 587V588M1679.5 586V595M1681.5 594V597M1683.5 598V603M1684.5 599V600M1685.5 600V604M1686.5 600V602M1687.5 605V608M1688.5 610V612M1689.5 604V614M1690.5 611V613M1691.5 614V618M1694.5 613V615M1702.5 593V594M1722.5 544V545M1723.5 548V561M1725.5 560V568M1727.5 569V574M1729.5 574V579M1730.5 569V581M1731.5 579V585M1732.5 582V587M1733.5 584V588M1738.5 578V581M1740.5 577V584M1742.5 581V583M1743.5 584V585M1744.5 585V586M1746.5 588V591M1761.5 578V580M1762.5 581V582M1763.5 583V590M1764.5 588V589M1765.5 592V596M1766.5 597V598M1789.5 542V548M1792.5 552V556M1793.5 558V560M1800.5 546V553M1802.5 557V561M1803.5 558V566M1810.5 558V562M1817.5 545V552M1826.5 546V551M1828.5 547V551M1830.5 553V555M1831.5 557V561M1832.5 562V563M1833.5 563V564M1834.5 564V565M1836.5 566V567M1838.5 563V564M1839.5 563V565M1840.5 565V569M1841.5 571V576M1842.5 577V580" stroke="#ff0000" stroke-width="1" fill="none"/><path d="M0 334L1852 41M6 936.5L1852 644" stroke="#007800" stroke-width="2" fill="none"/><path d="M1396 559.5L1851 453.5M1420 711.5L1851 612.5" stroke="#007800" stroke-width="1" fill="none"/><path d="M1841 937L1844.5 933L1848 937Z" fill="#22bb22"/><rect x="1902.5" y="44.5" width="9" height="8" fill="none" stroke="#c0ffc0"/><path d="M1904 48.5H1910" stroke="#c0ffc0"/><path d="M27 6H34L30.5 10Z M27 19H34L30.5 23Z" fill="#000"/><path d="M0 0.5H1912M0 951.5H1912M0.5 0V952M1911.5 0V952" stroke="#000" stroke-width="1" fill="none"/></svg>
<div class="t" style="left:3px;top:2.61px;font-size:10.5px;color:#000;">Max</div><div class="t" style="left:3px;top:15.61px;font-size:10.5px;color:#000;">Tage</div><div class="t" style="left:39px;top:2.61px;font-size:10.5px;color:#000;width:68px;overflow:hidden;">Mo 14.01.2008</div><div class="t" style="left:39px;top:15.61px;font-size:10.5px;color:#000;">Di 22.05.2018</div><div class="t" style="left:108px;top:1.61px;font-size:10.5px;color:#000;width:48px;overflow:hidden;">XAUUSD</div><div class="t" style="left:108.0px;width:48px;top:15.31px;font-size:10.5px;color:#000;text-align:center;">USD</div><div class="t" style="left:159px;top:4.81px;font-size:10.5px;color:#000;">Gold USD/Ounce</div><div class="t" style="left:1717.0px;width:78px;top:1.61px;font-size:10.5px;color:#000;text-align:center;letter-spacing:0.35px;">Rohstoffe</div><div class="t" style="left:1717.0px;width:78px;top:15.51px;font-size:10.5px;color:#000;text-align:center;letter-spacing:0.43px;">vwd Rohstoffe</div><div class="t" style="left:1798px;top:1.61px;font-size:10.5px;color:#000;">H: 1921.18</div><div class="t" style="left:1798px;top:15.51px;font-size:10.5px;color:#000;">L: 682.65</div><div class="t" style="left:1863px;top:1.61px;font-size:10.5px;color:#000;">1292.77</div><div class="t" style="left:1863px;top:15.51px;font-size:10.5px;color:#000;width:47px;overflow:hidden;white-space:nowrap;">43.1/389.2</div><div class="t" style="left:3px;top:33.84px;font-size:12px;color:#000;white-space:pre;letter-spacing:0.171px;">Haftungsausschluss f&uuml;r Inhalte: Alle Trendkan&auml;le bzw. andere Linien, oder Grafiken hier sind keine Empfehlungen, oder Beratung, sondern die zeigen ausschlie&szlig;lich meine eigene Meinung. Alle Chartdaten sind ohne Gew&auml;hr.&nbsp; www.wikifolio.com/de/de/p/cyberwaehrungen</div><div class="t" style="left:1862px;top:72.11px;font-size:10.5px;color:#000;">2200.00</div><div class="t" style="left:1862px;top:127.11px;font-size:10.5px;color:#000;">2100.00</div><div class="t" style="left:1862px;top:182.11px;font-size:10.5px;color:#000;">2000.00</div><div class="t" style="left:1862px;top:237.11px;font-size:10.5px;color:#000;">1900.00</div><div class="t" style="left:1862px;top:293.11px;font-size:10.5px;color:#000;">1800.00</div><div class="t" style="left:1862px;top:348.11px;font-size:10.5px;color:#000;">1700.00</div><div class="t" style="left:1862px;top:403.11px;font-size:10.5px;color:#000;">1600.00</div><div class="t" style="left:1862px;top:458.11px;font-size:10.5px;color:#000;">1500.00</div><div class="t" style="left:1862px;top:514.11px;font-size:10.5px;color:#000;">1400.00</div><div class="t" style="left:1862px;top:569.11px;font-size:10.5px;color:#000;">1300.00</div><div class="t" style="left:1862px;top:624.11px;font-size:10.5px;color:#000;">1200.00</div><div class="t" style="left:1862px;top:679.11px;font-size:10.5px;color:#000;">1100.00</div><div class="t" style="left:1862px;top:735.11px;font-size:10.5px;color:#000;">1000.00</div><div class="t" style="left:1862px;top:790.11px;font-size:10.5px;color:#000;">900.00</div><div class="t" style="left:1862px;top:845.11px;font-size:10.5px;color:#000;">800.00</div><div class="t" style="left:1862px;top:900.11px;font-size:10.5px;color:#000;">700.00</div><div style="position:absolute;left:1857px;top:571px;width:54px;height:14px;background:#0000ff"></div><div style="position:absolute;left:1857px;top:578px;width:3px;height:1px;background:#fff"></div><div class="t" style="left:1863px;top:573.31px;font-size:10.5px;color:#fff;">1292.77</div><div class="t" style="left:1859px;top:924.11px;font-size:10.5px;color:#000;">(c)Tai-Pan</div><div class="t" style="left:1862px;top:940.11px;font-size:10.5px;color:#000;">22.05.18</div><div class="t" style="left:1847px;top:939.11px;font-size:10.5px;color:#000;">-</div><div class="t" style="right:1854px;top:939.61px;font-size:10.5px;color:#000;text-align:right;">05</div><div class="t" style="left:61px;top:939.61px;font-size:10.5px;color:#000;">08</div><div class="t" style="right:1825px;top:939.61px;font-size:10.5px;color:#000;text-align:right;">07</div><div class="t" style="left:90px;top:939.61px;font-size:10.5px;color:#000;">08</div><div class="t" style="right:1795px;top:939.61px;font-size:10.5px;color:#000;text-align:right;">09</div><div class="t" style="left:120px;top:939.61px;font-size:10.5px;color:#000;">08</div><div class="t" style="right:1764px;top:939.61px;font-size:10.5px;color:#000;text-align:right;">11</div><div class="t" style="left:151px;top:939.61px;font-size:10.5px;color:#000;">08</div><div class="t" style="right:1735px;top:939.61px;font-size:10.5px;color:#000;text-align:right;">01</div><div class="t" style="left:180px;top:939.61px;font-size:10.5px;color:#000;">09</div><div class="t" style="right:1707px;top:939.61px;font-size:10.5px;color:#000;text-align:right;">03</div><div class="t" style="left:208px;top:939.61px;font-size:10.5px;color:#000;">09</div><div class="t" style="right:1677px;top:939.61px;font-size:10.5px;color:#000;text-align:right;">05</div><div class="t" style="left:238px;top:939.61px;font-size:10.5px;color:#000;">09</div><div class="t" style="right:1647px;top:939.61px;font-size:10.5px;color:#000;text-align:right;">07</div><div class="t" style="left:268px;top:939.61px;font-size:10.5px;color:#000;">09</div><div class="t" style="right:1617px;top:939.61px;font-size:10.5px;color:#000;text-align:right;">09</div><div class="t" style="left:298px;top:939.61px;font-size:10.5px;color:#000;">09</div><div class="t" style="right:1587px;top:939.61px;font-size:10.5px;color:#000;text-align:right;">11</div><div class="t" style="left:328px;top:939.61px;font-size:10.5px;color:#000;">09</div><div class="t" style="right:1557px;top:939.61px;font-size:10.5px;color:#000;text-align:right;">01</div><div class="t" style="left:358px;top:939.61px;font-size:10.5px;color:#000;">10</div><div class="t" style="right:1529px;top:939.61px;font-size:10.5px;color:#000;text-align:right;">03</div><div class="t" style="left:386px;top:939.61px;font-size:10.5px;color:#000;">10</div><div class="t" style="right:1499px;top:939.61px;font-size:10.5px;color:#000;text-align:right;">05</div><div class="t" style="left:416px;top:939.61px;font-size:10.5px;color:#000;">10</div><div class="t" style="right:1469px;top:939.61px;font-size:10.5px;color:#000;text-align:right;">07</div><div class="t" style="left:446px;top:939.61px;font-size:10.5px;color:#000;">10</div><div class="t" style="right:1439px;top:939.61px;font-size:10.5px;color:#000;text-align:right;">09</div><div class="t" style="left:476px;top:939.61px;font-size:10.5px;color:#000;">10</div><div class="t" style="right:1410px;top:939.61px;font-size:10.5px;color:#000;text-align:right;">11</div><div class="t" style="left:505px;top:939.61px;font-size:10.5px;color:#000;">10</div><div class="t" style="right:1379px;top:939.61px;font-size:10.5px;color:#000;text-align:right;">01</div><div class="t" style="left:536px;top:939.61px;font-size:10.5px;color:#000;">11</div><div class="t" style="right:1351px;top:939.61px;font-size:10.5px;color:#000;text-align:right;">03</div><div class="t" style="left:564px;top:939.61px;font-size:10.5px;color:#000;">11</div><div class="t" style="right:1321px;top:939.61px;font-size:10.5px;color:#000;text-align:right;">05</div><div class="t" style="left:594px;top:939.61px;font-size:10.5px;color:#000;">11</div><div class="t" style="right:1291px;top:939.61px;font-size:10.5px;color:#000;text-align:right;">07</div><div class="t" style="left:624px;top:939.61px;font-size:10.5px;color:#000;">11</div><div class="t" style="right:1261px;top:939.61px;font-size:10.5px;color:#000;text-align:right;">09</div><div class="t" style="left:654px;top:939.61px;font-size:10.5px;color:#000;">11</div><div class="t" style="right:1232px;top:939.61px;font-size:10.5px;color:#000;text-align:right;">11</div><div class="t" style="left:683px;top:939.61px;font-size:10.5px;color:#000;">11</div><div class="t" style="right:1202px;top:939.61px;font-size:10.5px;color:#000;text-align:right;">01</div><div class="t" style="left:713px;top:939.61px;font-size:10.5px;color:#000;">12</div><div class="t" style="right:1173px;top:939.61px;font-size:10.5px;color:#000;text-align:right;">03</div><div class="t" style="left:742px;top:939.61px;font-size:10.5px;color:#000;">12</div><div class="t" style="right:1143px;top:939.61px;font-size:10.5px;color:#000;text-align:right;">05</div><div class="t" style="left:772px;top:939.61px;font-size:10.5px;color:#000;">12</div><div class="t" style="right:1113px;top:939.61px;font-size:10.5px;color:#000;text-align:right;">07</div><div class="t" style="left:802px;top:939.61px;font-size:10.5px;color:#000;">12</div><div class="t" style="right:1083px;top:939.61px;font-size:10.5px;color:#000;text-align:right;">09</div><div class="t" style="left:832px;top:939.61px;font-size:10.5px;color:#000;">12</div><div class="t" style="right:1053px;top:939.61px;font-size:10.5px;color:#000;text-align:right;">11</div><div class="t" style="left:862px;top:939.61px;font-size:10.5px;color:#000;">12</div><div class="t" style="right:1024px;top:939.61px;font-size:10.5px;color:#000;text-align:right;">01</div><div class="t" style="left:891px;top:939.61px;font-size:10.5px;color:#000;">13</div><div class="t" style="right:995px;top:939.61px;font-size:10.5px;color:#000;text-align:right;">03</div><div class="t" style="left:920px;top:939.61px;font-size:10.5px;color:#000;">13</div><div class="t" style="right:965px;top:939.61px;font-size:10.5px;color:#000;text-align:right;">05</div><div class="t" style="left:950px;top:939.61px;font-size:10.5px;color:#000;">13</div><div class="t" style="right:936px;top:939.61px;font-size:10.5px;color:#000;text-align:right;">07</div><div class="t" style="left:979px;top:939.61px;font-size:10.5px;color:#000;">13</div><div class="t" style="right:905px;top:939.61px;font-size:10.5px;color:#000;text-align:right;">09</div><div class="t" style="left:1010px;top:939.61px;font-size:10.5px;color:#000;">13</div><div class="t" style="right:875px;top:939.61px;font-size:10.5px;color:#000;text-align:right;">11</div><div class="t" style="left:1040px;top:939.61px;font-size:10.5px;color:#000;">13</div><div class="t" style="right:846px;top:939.61px;font-size:10.5px;color:#000;text-align:right;">01</div><div class="t" style="left:1069px;top:939.61px;font-size:10.5px;color:#000;">14</div><div class="t" style="right:816px;top:939.61px;font-size:10.5px;color:#000;text-align:right;">03</div><div class="t" style="left:1099px;top:939.61px;font-size:10.5px;color:#000;">14</div><div class="t" style="right:787px;top:939.61px;font-size:10.5px;color:#000;text-align:right;">05</div><div class="t" style="left:1128px;top:939.61px;font-size:10.5px;color:#000;">14</div><div class="t" style="right:758px;top:939.61px;font-size:10.5px;color:#000;text-align:right;">07</div><div class="t" style="left:1157px;top:939.61px;font-size:10.5px;color:#000;">14</div><div class="t" style="right:728px;top:939.61px;font-size:10.5px;color:#000;text-align:right;">09</div><div class="t" style="left:1187px;top:939.61px;font-size:10.5px;color:#000;">14</div><div class="t" style="right:697px;top:939.61px;font-size:10.5px;color:#000;text-align:right;">11</div><div class="t" style="left:1218px;top:939.61px;font-size:10.5px;color:#000;">14</div><div class="t" style="right:668px;top:939.61px;font-size:10.5px;color:#000;text-align:right;">01</div><div class="t" style="left:1247px;top:939.61px;font-size:10.5px;color:#000;">15</div><div class="t" style="right:639px;top:939.61px;font-size:10.5px;color:#000;text-align:right;">03</div><div class="t" style="left:1276px;top:939.61px;font-size:10.5px;color:#000;">15</div><div class="t" style="right:609px;top:939.61px;font-size:10.5px;color:#000;text-align:right;">05</div><div class="t" style="left:1306px;top:939.61px;font-size:10.5px;color:#000;">15</div><div class="t" style="right:580px;top:939.61px;font-size:10.5px;color:#000;text-align:right;">07</div><div class="t" style="left:1335px;top:939.61px;font-size:10.5px;color:#000;">15</div><div class="t" style="right:550px;top:939.61px;font-size:10.5px;color:#000;text-align:right;">09</div><div class="t" style="left:1365px;top:939.61px;font-size:10.5px;color:#000;">15</div><div class="t" style="right:520px;top:939.61px;font-size:10.5px;color:#000;text-align:right;">11</div><div class="t" style="left:1395px;top:939.61px;font-size:10.5px;color:#000;">15</div><div class="t" style="right:490px;top:939.61px;font-size:10.5px;color:#000;text-align:right;">01</div><div class="t" style="left:1425px;top:939.61px;font-size:10.5px;color:#000;">16</div><div class="t" style="right:462px;top:939.61px;font-size:10.5px;color:#000;text-align:right;">03</div><div class="t" style="left:1453px;top:939.61px;font-size:10.5px;color:#000;">16</div><div class="t" style="right:432px;top:939.61px;font-size:10.5px;color:#000;text-align:right;">05</div><div class="t" style="left:1483px;top:939.61px;font-size:10.5px;color:#000;">16</div><div class="t" style="right:402px;top:939.61px;font-size:10.5px;color:#000;text-align:right;">07</div><div class="t" style="left:1513px;top:939.61px;font-size:10.5px;color:#000;">16</div><div class="t" style="right:372px;top:939.61px;font-size:10.5px;color:#000;text-align:right;">09</div><div class="t" style="left:1543px;top:939.61px;font-size:10.5px;color:#000;">16</div><div class="t" style="right:342px;top:939.61px;font-size:10.5px;color:#000;text-align:right;">11</div><div class="t" style="left:1573px;top:939.61px;font-size:10.5px;color:#000;">16</div><div class="t" style="right:312px;top:939.61px;font-size:10.5px;color:#000;text-align:right;">01</div><div class="t" style="left:1603px;top:939.61px;font-size:10.5px;color:#000;">17</div><div class="t" style="right:284px;top:939.61px;font-size:10.5px;color:#000;text-align:right;">03</div><div class="t" style="left:1631px;top:939.61px;font-size:10.5px;color:#000;">17</div><div class="t" style="right:254px;top:939.61px;font-size:10.5px;color:#000;text-align:right;">05</div><div class="t" style="left:1661px;top:939.61px;font-size:10.5px;color:#000;">17</div><div class="t" style="right:224px;top:939.61px;font-size:10.5px;color:#000;text-align:right;">07</div><div class="t" style="left:1691px;top:939.61px;font-size:10.5px;color:#000;">17</div><div class="t" style="right:194px;top:939.61px;font-size:10.5px;color:#000;text-align:right;">09</div><div class="t" style="left:1721px;top:939.61px;font-size:10.5px;color:#000;">17</div><div class="t" style="right:164px;top:939.61px;font-size:10.5px;color:#000;text-align:right;">11</div><div class="t" style="left:1751px;top:939.61px;font-size:10.5px;color:#000;">17</div><div class="t" style="right:136px;top:939.61px;font-size:10.5px;color:#000;text-align:right;">01</div><div class="t" style="left:1779px;top:939.61px;font-size:10.5px;color:#000;">18</div><div class="t" style="right:107px;top:939.61px;font-size:10.5px;color:#000;text-align:right;">03</div><div class="t" style="left:1808px;top:939.61px;font-size:10.5px;color:#000;">18</div>
</body></html>
